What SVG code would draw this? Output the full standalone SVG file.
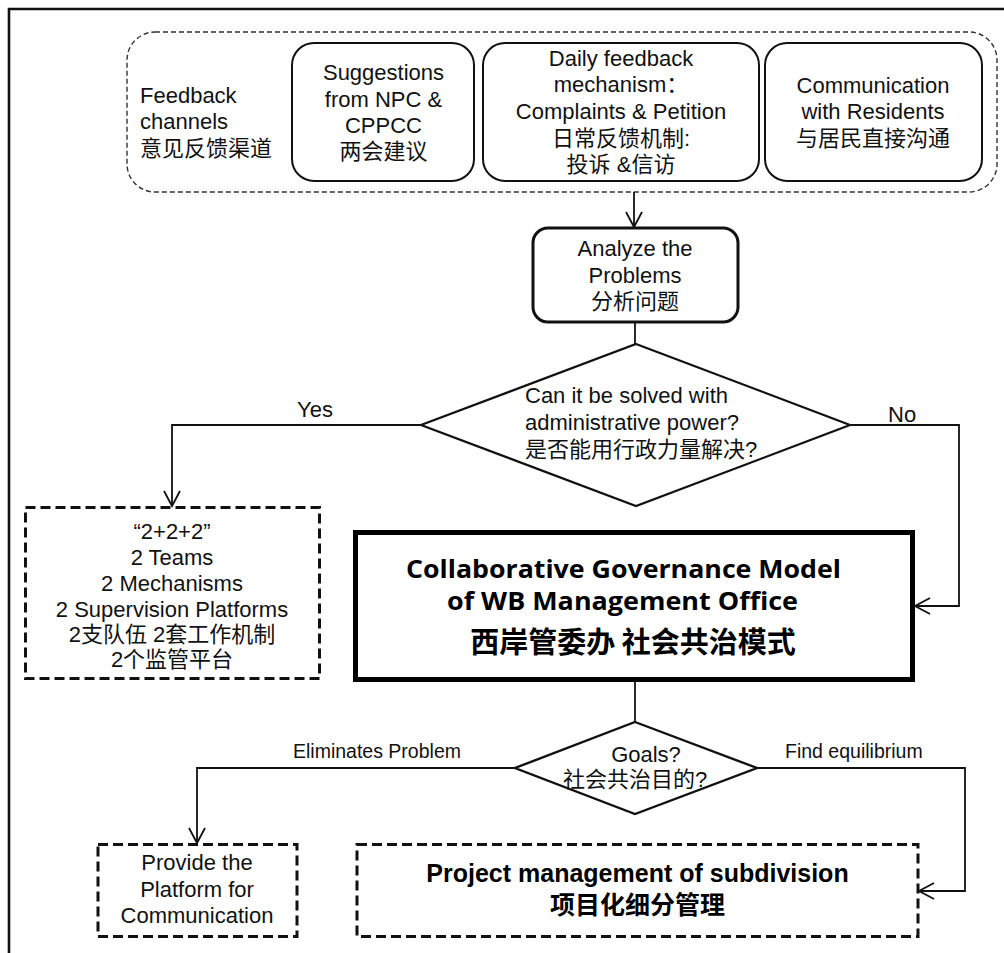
<svg xmlns="http://www.w3.org/2000/svg" width="1004" height="953" viewBox="0 0 1004 953">
<defs>
<style>
.t{font-family:"Liberation Sans","Noto Sans CJK SC",Arial,sans-serif;font-size:22px;fill:#111;}
.c{text-anchor:middle;}
.lab{font-family:"Liberation Sans","Noto Sans CJK SC",Arial,sans-serif;font-size:19.5px;fill:#111;}
.ttl{font-family:"Open Sans","Liberation Sans",sans-serif;font-weight:700;font-size:25px;fill:#000;}
.pm{font-family:"Liberation Sans","Noto Sans CJK SC",Arial,sans-serif;font-weight:700;font-size:25px;fill:#000;text-anchor:middle;}
.cjkb{font-family:"Noto Sans CJK SC","Liberation Sans",sans-serif;font-weight:700;fill:#000;text-anchor:middle;}
.rb{fill:#fff;stroke:#111;stroke-width:2;}
.db{fill:#fff;stroke:#111;stroke-width:3;stroke-dasharray:10 5;}
.conn path{fill:none;stroke:#111;stroke-width:1.8;}
</style>
<marker id="arr" markerUnits="userSpaceOnUse" viewBox="-17 -10 19 20" refX="0" refY="0" markerWidth="19" markerHeight="20" orient="auto">
<path d="M-15,-8 L0,0 L-15,8" fill="none" stroke="#111" stroke-width="1.8"/>
</marker>
</defs>
<rect width="1004" height="953" fill="#fff"/>
<path id="frame" d="M9,953 V9 H1004" fill="none" stroke="#111" stroke-width="2.6"/>

<g id="feedback-channels">
<rect x="127" y="32" width="870" height="160" rx="28" fill="none" stroke="#333" stroke-width="1.4" stroke-dasharray="5 3"/>
<text class="t" x="140" y="103">Feedback</text>
<text class="t" x="140" y="129">channels</text>
<text class="t" x="140" y="156">意见反馈渠道</text>
</g>

<g id="npc">
<rect class="rb" x="292" y="43" width="182" height="138" rx="22"/>
<text class="t c" x="383.5" y="80">Suggestions</text>
<text class="t c" x="383.5" y="106.5">from NPC &amp;</text>
<text class="t c" x="383.5" y="133">CPPCC</text>
<text class="t c" x="383.5" y="159">两会建议</text>
</g>

<g id="daily">
<rect class="rb" x="483" y="43" width="276" height="138" rx="22"/>
<text class="t c" x="621" y="66">Daily feedback</text>
<text class="t c" x="621" y="92">mechanism：</text>
<text class="t c" x="621" y="119">Complaints &amp; Petition</text>
<text class="t c" x="621" y="146">日常反馈机制:</text>
<text class="t c" x="621" y="172">投诉 &amp;信访</text>
</g>

<g id="residents">
<rect class="rb" x="765" y="43" width="217" height="138" rx="22"/>
<text class="t c" x="873" y="93">Communication</text>
<text class="t c" x="873" y="119">with Residents</text>
<text class="t c" x="873" y="146">与居民直接沟通</text>
</g>

<g id="analyze">
<rect x="533" y="228" width="205" height="94" rx="15" fill="#fff" stroke="#111" stroke-width="3"/>
<text class="t c" x="635" y="256">Analyze the</text>
<text class="t c" x="635" y="283">Problems</text>
<text class="t c" x="635" y="309">分析问题</text>
</g>

<g id="decision-admin">
<path d="M636,344 L850,425 L636,506 L421,425 Z" fill="#fff" stroke="#111" stroke-width="2.2"/>
<text class="t" x="525" y="403">Can it be solved with</text>
<text class="t" x="525" y="430">administrative power?</text>
<text class="t" x="525" y="457">是否能用行政力量解决?</text>
</g>

<g id="two-two-two">
<rect class="db" x="25.5" y="507.5" width="294" height="171"/>
<text class="t c" x="172" y="539">“2+2+2”</text>
<text class="t c" x="172" y="565">2 Teams</text>
<text class="t c" x="172" y="591">2 Mechanisms</text>
<text class="t c" x="172" y="617">2 Supervision Platforms</text>
<text class="t c" x="172" y="642">2支队伍 2套工作机制</text>
<text class="t c" x="172" y="667">2个监管平台</text>
</g>

<g id="model">
<rect x="355.5" y="532.5" width="557" height="147" fill="#fff" stroke="#000" stroke-width="5"/>
<text class="ttl" x="406" y="578" textLength="435" lengthAdjust="spacingAndGlyphs">Collaborative Governance Model</text>
<text class="ttl" x="447" y="610" textLength="351" lengthAdjust="spacingAndGlyphs">of WB Management Office</text>
<text class="cjkb" x="633" y="653" font-size="29">西岸管委办 社会共治模式</text>
</g>

<g id="decision-goals">
<path d="M635,722 L757,768 L635,814 L515,768 Z" fill="#fff" stroke="#111" stroke-width="2.4"/>
<text class="t c" x="646" y="762">Goals?</text>
<text class="t c" x="635" y="787">社会共治目的?</text>
</g>

<g id="platform">
<rect class="db" x="98" y="844.5" width="199" height="92"/>
<text class="t c" x="197" y="870">Provide the</text>
<text class="t c" x="197" y="897">Platform for</text>
<text class="t c" x="197" y="923">Communication</text>
</g>

<g id="project">
<rect class="db" x="357" y="844.5" width="561" height="92"/>
<text class="pm" x="637.5" y="882">Project management of subdivision</text>
<text class="cjkb" x="637.5" y="914" font-size="25">项目化细分管理</text>
</g>

<g id="connectors" class="conn">
<path d="M634,192 V227" marker-end="url(#arr)"/>
<path d="M635,323 V344"/>
<path d="M421,425 H172 V506" marker-end="url(#arr)"/>
<path d="M850,425 H959 V606 H915" marker-end="url(#arr)"/>
<path d="M635,682 V722"/>
<path d="M515,768 H197 V843" marker-end="url(#arr)"/>
<path d="M757,768 H965 V891 H919" marker-end="url(#arr)"/>
</g>

<g id="labels">
<text class="t" x="297" y="417">Yes</text>
<text class="t" x="888" y="422">No</text>
<text class="lab" x="293" y="758">Eliminates Problem</text>
<text class="lab" x="785" y="758">Find equilibrium</text>
</g>
</svg>
